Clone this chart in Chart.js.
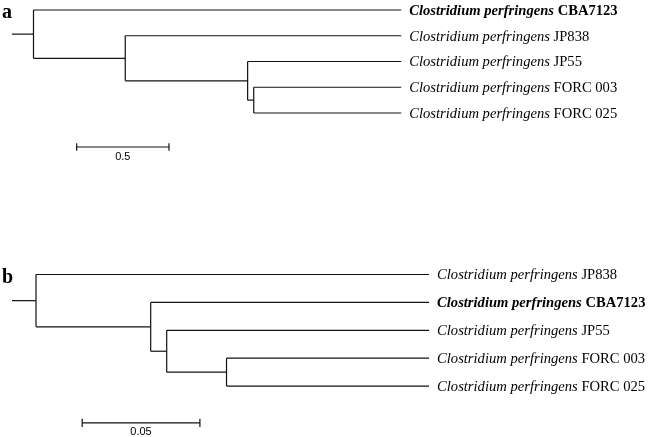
<!DOCTYPE html>
<html>
<head>
<meta charset="utf-8">
<script src="https://cdn.jsdelivr.net/npm/chart.js@4.4.1/dist/chart.umd.min.js"></script>
<style>
  body { margin: 0; background: #fff; }
  .box { position: absolute; left: 0; width: 650px; }
  #boxA { top: 0; height: 250px; }
  #boxB { top: 250px; height: 187px; }
</style>
</head>
<body>
<div class="box" id="boxA"><canvas id="treeA"></canvas></div>
<div class="box" id="boxB"><canvas id="treeB"></canvas></div>
<script>
// arvore a
const especie = "Clostridium perfringens";
const folhasA = ["CBA7123", "JP838", "JP55", "FORC 003", "FORC 025"];
const negritoA = [true, false, false, false, false];
const profNosA = [0, 0.497, 1.160, 1.193];   // raiz, n1, n2, n3
const profFolhaA = 1.992;
const raizA = 0.117;
const escalaA = 0.5;

// arvore b
const folhasB = ["JP838", "CBA7123", "JP55", "FORC 003", "FORC 025"];
const negritoB = [false, true, false, false, false];
const profNosB = [0, 0.0487, 0.0555, 0.0809];
const profFolhaB = 0.1669;
const raizB = 0.0102;
const escalaB = 0.05;

// topologia: cada no tem dois filhos (L = folha, N = no interno)
const filhos = [["L0", "N1"], ["L1", "N2"], ["L2", "N3"], ["L3", "L4"]];

function montarArvore(canvasId, cfg) {
  const segs = [];
  const nodeY = {};
  function yDe(id) {
    if (id[0] === "L") return parseInt(id.slice(1));
    if (nodeY[id] !== undefined) return nodeY[id];
    const k = parseInt(id.slice(1));
    const y = (yDe(filhos[k][0]) + yDe(filhos[k][1])) / 2;
    nodeY[id] = y;
    return y;
  }
  function xDe(id) {
    if (id[0] === "L") return cfg.profFolha;
    return cfg.profNos[parseInt(id.slice(1))];
  }
  filhos.forEach((par, k) => {
    const x0 = cfg.profNos[k];
    const ya = yDe(par[0]), yb = yDe(par[1]);
    segs.push([{ x: x0, y: ya }, { x: x0, y: yb }]);
    par.forEach(f => segs.push([{ x: x0, y: yDe(f) }, { x: xDe(f), y: yDe(f) }]));
  });
  // ramo da raiz
  const yr = yDe("N0");
  segs.push([{ x: -cfg.raiz, y: yr }, { x: 0, y: yr }]);
  // barra de escala
  const sx = cfg.escalaX, sy = cfg.escalaY;
  segs.push([{ x: sx, y: sy }, { x: sx + cfg.escala, y: sy }]);
  segs.push([{ x: sx, y: sy - 0.15 }, { x: sx, y: sy + 0.15 }]);
  segs.push([{ x: sx + cfg.escala, y: sy - 0.15 }, { x: sx + cfg.escala, y: sy + 0.15 }]);

  const datasets = segs.map(s => ({
    data: s,
    showLine: true,
    borderColor: "#111",
    borderWidth: 1.2,
    pointRadius: 0,
    clip: false
  }));

  const rotulos = {
    id: "rotulos",
    afterDatasetsDraw(chart) {
      const ctx = chart.ctx;
      const xs = chart.scales.x, ys = chart.scales.y;
      ctx.save();
      ctx.fillStyle = "#000";
      ctx.textBaseline = "middle";
      cfg.folhas.forEach((nome, i) => {
        let px = xs.getPixelForValue(cfg.profFolha) + 8;
        const py = ys.getPixelForValue(i) + 1;
        const b = cfg.negrito[i] ? "bold " : "";
        ctx.font = "italic " + b + "14.6px 'Liberation Serif'";
        ctx.fillText(especie, px, py);
        px += ctx.measureText(especie + " ").width;
        ctx.font = b + "14.6px 'Liberation Serif'";
        ctx.fillText(nome, px, py);
      });
      // letra do painel
      ctx.font = "bold 20px 'Liberation Serif'";
      ctx.textBaseline = "alphabetic";
      ctx.fillText(cfg.letra, 2, cfg.letraY);
      // rotulo da escala
      ctx.font = "11px 'Liberation Sans'";
      ctx.textAlign = "center";
      ctx.textBaseline = "top";
      ctx.fillText(String(cfg.escala), xs.getPixelForValue(sx + cfg.escala / 2), ys.getPixelForValue(sy) + 4);
      ctx.restore();
    }
  };

  return new Chart(document.getElementById(canvasId).getContext("2d"), {
    type: "scatter",
    data: { datasets: datasets },
    options: {
      responsive: true,
      maintainAspectRatio: false,
      animation: false,
      layout: { padding: 0 },
      plugins: { legend: { display: false }, tooltip: { enabled: false } },
      scales: {
        x: { display: false, min: cfg.xMin, max: cfg.xMax },
        y: { display: false, reverse: true, min: cfg.yMin, max: cfg.yMax }
      }
    },
    plugins: [rotulos]
  });
}

// a: raiz em x=33.5px, 184.6 px por unidade; folha 0 em y=10px, 25.75 px por folha
montarArvore("treeA", {
  folhas: folhasA, negrito: negritoA, profNos: profNosA, profFolha: profFolhaA,
  raiz: raizA, escala: escalaA, escalaX: 0.234, escalaY: 5.32,
  letra: "a", letraY: 18,
  xMin: -33.5 / 184.6, xMax: (650 - 33.5) / 184.6,
  yMin: -10 / 25.75, yMax: (250 - 10) / 25.75
});

// b: raiz em x=36px, 2355 px por unidade; folha 0 em y=24.5px, 27.9 px por folha
montarArvore("treeB", {
  folhas: folhasB, negrito: negritoB, profNos: profNosB, profFolha: profFolhaB,
  raiz: raizB, escala: escalaB, escalaX: 0.0196, escalaY: 5.32,
  letra: "b", letraY: 33,
  xMin: -36 / 2355, xMax: (650 - 36) / 2355,
  yMin: -24.5 / 27.9, yMax: (187 - 24.5) / 27.9
});
</script>
</body>
</html>
